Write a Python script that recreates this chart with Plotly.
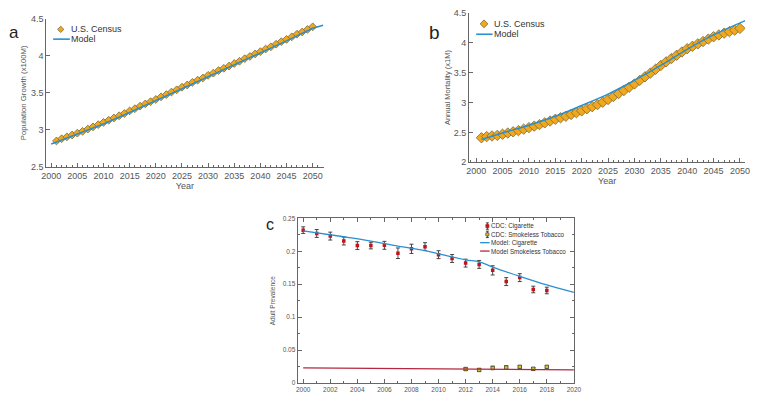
import plotly.graph_objects as go

# ---------- Panel a: population ----------
years_a = list(range(2001, 2051))
census_a = [2.85, 2.88, 2.905, 2.93, 2.955, 2.98, 3.01, 3.04, 3.07, 3.10,
            3.13, 3.16, 3.19, 3.22, 3.255, 3.285, 3.32, 3.35, 3.38, 3.41,
            3.445, 3.475, 3.51, 3.54, 3.575, 3.605, 3.64, 3.67, 3.70, 3.735,
            3.765, 3.80, 3.83, 3.86, 3.895, 3.925, 3.96, 3.99, 4.025, 4.055,
            4.09, 4.12, 4.155, 4.19, 4.22, 4.255, 4.29, 4.32, 4.355, 4.39]
model_a_years = [2000, 2005, 2010, 2015, 2020, 2025, 2030, 2035, 2040, 2045, 2050, 2052]
model_a = [2.81, 2.94, 3.08, 3.235, 3.39, 3.555, 3.715, 3.875, 4.04, 4.20, 4.37, 4.41]

# ---------- Panel b: mortality ----------
years_b = list(range(2001, 2051))
census_b = [2.41, 2.43, 2.44, 2.45, 2.47, 2.49, 2.51, 2.53, 2.555, 2.58,
            2.605, 2.63, 2.66, 2.69, 2.72, 2.745, 2.77, 2.80, 2.83, 2.86,
            2.895, 2.93, 2.965, 3.005, 3.05, 3.10, 3.15, 3.20, 3.255, 3.31,
            3.37, 3.43, 3.49, 3.555, 3.62, 3.68, 3.735, 3.79, 3.845, 3.90,
            3.94, 3.98, 4.02, 4.06, 4.10, 4.13, 4.16, 4.185, 4.21, 4.24]
model_b_years = [2001, 2005, 2010, 2015, 2020, 2025, 2030, 2035, 2040, 2045, 2051]
model_b = [2.38, 2.49, 2.62, 2.77, 2.95, 3.14, 3.37, 3.62, 3.89, 4.13, 4.37]

# ---------- Panel c: prevalence ----------
years_cig = list(range(2000, 2019))
cdc_cig = [0.232, 0.227, 0.223, 0.2155, 0.2086, 0.2086, 0.209, 0.197, 0.2037, 0.207,
           0.1948, 0.189, 0.182, 0.180, 0.171, 0.154, 0.160, 0.142, 0.1405]
cdc_cig_err = [0.005, 0.006, 0.006, 0.006, 0.006, 0.005, 0.006, 0.008, 0.007, 0.006,
               0.006, 0.006, 0.006, 0.006, 0.007, 0.006, 0.006, 0.005, 0.005]
years_sl = [2012, 2013, 2014, 2015, 2016, 2017, 2018]
cdc_sl = [0.0213, 0.0200, 0.0230, 0.0237, 0.0247, 0.0217, 0.0247]
cdc_sl_err = [0.002, 0.002, 0.0025, 0.0025, 0.002, 0.002, 0.002]
model_cig_years = [2000, 2003, 2005, 2007, 2009, 2010, 2012, 2013, 2014, 2016, 2018, 2020]
model_cig = [0.231, 0.222, 0.2155, 0.2077, 0.201, 0.196, 0.187, 0.184, 0.176, 0.162, 0.149, 0.1376]
model_sl_years = [2000, 2010, 2020]
model_sl = [0.0232, 0.0217, 0.0202]

legend_a = ["U.S. Census", "Model"]
legend_b = ["U.S. Census", "Model"]
legend_c = ["CDC: Cigarette", "CDC: Smokeless Tobacco", "Model: Cigarette", "Model Smokeless Tobacco"]

W, H = 767, 404
FONT = "Liberation Sans, Arial, sans-serif"
ORANGE = "#f2a81d"
DIAM_EDGE = "#7a6a3a"
BLUE = "#2a8fd0"
RED_LINE = "#b3283e"
RED_MK = "#c0141c"
YEL_MK = "#d8c020"
GREY = "#555555"
AXC = "#666666"


def px(x):
    return x / W


def py(y):
    return 1 - y / H


fig = go.Figure()

fig.add_trace(go.Scatter(x=years_a, y=census_a, mode="markers", name=legend_a[0],
                         marker=dict(symbol="diamond", size=6, color=ORANGE,
                                     line=dict(color=DIAM_EDGE, width=0.8)),
                         xaxis="x", yaxis="y"))
fig.add_trace(go.Scatter(x=model_a_years, y=model_a, mode="lines", name=legend_a[1],
                         line=dict(color=BLUE, width=1.6),
                         xaxis="x", yaxis="y"))

fig.add_trace(go.Scatter(x=years_b, y=census_b, mode="markers", name=legend_b[0],
                         marker=dict(symbol="diamond", size=8, color=ORANGE,
                                     line=dict(color=DIAM_EDGE, width=0.8)),
                         xaxis="x2", yaxis="y2"))
fig.add_trace(go.Scatter(x=model_b_years, y=model_b, mode="lines", name=legend_b[1],
                         line=dict(color=BLUE, width=1.5, shape="spline"),
                         xaxis="x2", yaxis="y2"))

fig.add_trace(go.Scatter(x=years_cig, y=cdc_cig, mode="markers", name=legend_c[0],
                         marker=dict(symbol="square", size=3.5, color=RED_MK),
                         error_y=dict(type="data", array=cdc_cig_err, color="#333333",
                                      thickness=0.9, width=2),
                         xaxis="x3", yaxis="y3"))
fig.add_trace(go.Scatter(x=years_sl, y=cdc_sl, mode="markers", name=legend_c[1],
                         marker=dict(symbol="square", size=3.5, color=YEL_MK,
                                     line=dict(color="#333333", width=0.7)),
                         error_y=dict(type="data", array=cdc_sl_err, color="#333333",
                                      thickness=0.9, width=2),
                         xaxis="x3", yaxis="y3"))
fig.add_trace(go.Scatter(x=model_cig_years, y=model_cig, mode="lines", name=legend_c[2],
                         line=dict(color=BLUE, width=1.3, shape="spline"),
                         xaxis="x3", yaxis="y3"))
fig.add_trace(go.Scatter(x=model_sl_years, y=model_sl, mode="lines", name=legend_c[3],
                         line=dict(color=RED_LINE, width=1.3),
                         xaxis="x3", yaxis="y3"))

axis_common = dict(showgrid=False, zeroline=False, showline=True, linecolor=AXC,
                   linewidth=1, ticks="inside", ticklen=4, tickcolor=AXC)
tf_ab = dict(family=FONT, size=9, color=GREY)
tf_c = dict(family=FONT, size=6.5, color=GREY)
yr_ticks = [2000, 2005, 2010, 2015, 2020, 2025, 2030, 2035, 2040, 2045, 2050]

shapes = []
annotations = []


def leg_diamond(cx, cy, r, color, edge):
    x0, y0 = px(cx), py(cy)
    dx, dy = r / W, r / H
    path = f"M {x0-dx},{y0} L {x0},{y0+dy} L {x0+dx},{y0} L {x0},{y0-dy} Z"
    shapes.append(dict(type="path", xref="paper", yref="paper", path=path,
                       fillcolor=color, line=dict(color=edge, width=0.8)))


def leg_line(x0, x1, y, color, width=1.6):
    shapes.append(dict(type="line", xref="paper", yref="paper", x0=px(x0), x1=px(x1),
                       y0=py(y), y1=py(y), line=dict(color=color, width=width)))


def leg_errmark(cx, cy, half, color, edge):
    shapes.append(dict(type="line", xref="paper", yref="paper", x0=px(cx), x1=px(cx),
                       y0=py(cy - half), y1=py(cy + half), line=dict(color="#333333", width=0.9)))
    for yy in (cy - half, cy + half):
        shapes.append(dict(type="line", xref="paper", yref="paper", x0=px(cx - 1.5), x1=px(cx + 1.5),
                           y0=py(yy), y1=py(yy), line=dict(color="#333333", width=0.9)))
    shapes.append(dict(type="rect", xref="paper", yref="paper", x0=px(cx - 1.6), x1=px(cx + 1.6),
                       y0=py(cy - 1.6), y1=py(cy + 1.6), fillcolor=color,
                       line=dict(color=edge, width=0.6)))


def leg_text(text, x, y, size):
    annotations.append(dict(text=text, x=px(x), y=py(y), xref="paper", yref="paper",
                            xanchor="left", yanchor="middle", showarrow=False,
                            font=dict(family=FONT, size=size, color="#333333")))


# legend a
leg_diamond(56.7, 25, 3.2, ORANGE, DIAM_EDGE)
leg_text(legend_a[0], 65.5, 25, 9)
leg_line(49, 66, 35, BLUE)
leg_text(legend_a[1], 65.5, 35, 9)
# legend b
leg_diamond(487.3, 19.3, 4, ORANGE, DIAM_EDGE)
leg_text(legend_b[0], 495.5, 19.3, 9)
leg_line(479.3, 496, 30, BLUE)
leg_text(legend_b[1], 495.5, 30, 9)
# legend c
leg_errmark(490.7, 226.7, 3.3, RED_MK, RED_MK)
leg_text(legend_c[0], 492.5, 226.7, 6.3)
leg_errmark(490.7, 235.2, 3.3, YEL_MK, "#333333")
leg_text(legend_c[1], 492.5, 235.2, 6.3)
leg_line(483.3, 493, 243.7, BLUE, 1.3)
leg_text(legend_c[2], 492.5, 243.7, 6.3)
leg_line(483.3, 493, 252.3, RED_LINE, 1.3)
leg_text(legend_c[3], 492.5, 252.3, 6.3)

for letter, x, y, s in [("a", 9.5, 28.5, 17), ("b", 437, 28, 19), ("c", 270, 225, 16)]:
    annotations.append(dict(text=letter, x=px(x), y=py(y), xref="paper", yref="paper",
                            xanchor="center", yanchor="middle",
                            showarrow=False, font=dict(family=FONT, size=s, color="#222222")))

fig.update_layout(
    width=W, height=H, margin=dict(l=0, r=0, t=0, b=0),
    paper_bgcolor="white", plot_bgcolor="white",
    font=dict(family=FONT, color=GREY),
    showlegend=False,
    xaxis=dict(domain=[px(42), px(324)], range=[1999.06, 2052.07], anchor="y",
               tickvals=yr_ticks, tickfont=tf_ab,
               minor=dict(ticks="inside", dtick=1, tick0=2000, ticklen=2, tickcolor=AXC),
               title=dict(text="Year", font=dict(family=FONT, size=9, color=GREY), standoff=2),
               **axis_common),
    yaxis=dict(domain=[py(166), py(14)], range=[2.5, 4.5], anchor="x",
               tickvals=[2.5, 3, 3.5, 4, 4.5], tickfont=tf_ab,
               title=dict(text="Population Growth (x100M)", font=dict(family=FONT, size=7.8, color=GREY),
                          standoff=3),
               **axis_common),
    xaxis2=dict(domain=[px(472), px(753)], range=[1998.64, 2051.0], anchor="y2",
                tickvals=yr_ticks, tickfont=tf_ab,
                minor=dict(ticks="inside", dtick=1, tick0=2000, ticklen=2, tickcolor=AXC),
                title=dict(text="Year", font=dict(family=FONT, size=9, color=GREY), standoff=2),
                **axis_common),
    yaxis2=dict(domain=[py(161.3), py(8)], range=[2, 4.5], anchor="x2",
                tickvals=[2, 2.5, 3, 3.5, 4, 4.5], tickfont=tf_ab,
                title=dict(text="Annual Mortality (x1M)", font=dict(family=FONT, size=7.5, color=GREY),
                           standoff=2),
                **axis_common),
    xaxis3=dict(domain=[px(297.7), px(578.7)], range=[1999.59, 2020], anchor="y3",
                tickvals=list(range(2000, 2021, 2)), mirror="ticks", tickfont=tf_c,
                minor=dict(ticks="inside", dtick=1, tick0=2000, ticklen=2, tickcolor=AXC),
                **axis_common),
    yaxis3=dict(domain=[py(387.7), py(218.7)], range=[0, 0.25], anchor="x3",
                tickvals=[0, 0.05, 0.1, 0.15, 0.2, 0.25], mirror="ticks", tickfont=tf_c,
                minor=dict(ticks="inside", dtick=0.025, ticklen=2, tickcolor=AXC),
                title=dict(text="Adult Prevalence", font=dict(family=FONT, size=6.5, color=GREY),
                           standoff=6),
                **axis_common),
    shapes=shapes,
    annotations=annotations,
)

fig.write_html("out.html")
